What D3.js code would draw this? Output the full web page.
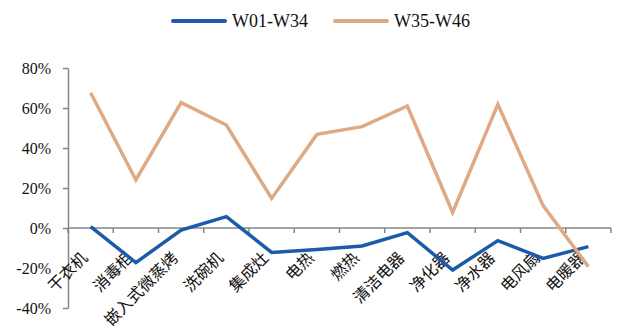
<!DOCTYPE html>
<html>
<head>
<meta charset="utf-8">
<script src="https://cdn.jsdelivr.net/npm/d3@7"></script>
<style>
  html, body { margin: 0; padding: 0; background: #fff; }
  svg { display: block; }
</style>
</head>
<body>
<svg id="chart" width="622" height="330"></svg>
<script>
// Categories along the x axis
const categories = ["干衣机", "消毒柜", "嵌入式微蒸烤", "洗碗机", "集成灶", "电热", "燃热", "清洁电器", "净化器", "净水器", "电风扇", "电暖器"];
// Year-on-year change (%) for two periods
const seriesW01W34 = [0.7, -17.3, -1.0, 5.7, -12.2, -10.7, -9.0, -2.3, -21.0, -6.3, -15.2, -9.3];
const seriesW35W46 = [67.6, 24.0, 62.7, 51.5, 14.8, 46.8, 50.7, 61.0, 7.8, 61.8, 11.2, -19.3];
const seriesNames = ["W01-W34", "W35-W46"];
const yTicks = [-40, -20, 0, 20, 40, 60, 80];

const colors = ["#1b5ba9", "#dfa983"];
const axisColor = "#868686";
const serif = "'Liberation Serif', 'DejaVu Serif', serif";
const cjk = "'Noto Sans CJK SC', 'Noto Sans', sans-serif";

const svg = d3.select("#chart");
const plotLeft = 68, plotRight = 611, plotTop = 68, plotBottom = 308;

const x = d3.scaleBand().domain(categories).range([plotLeft, plotRight]);
const y = d3.scaleLinear().domain([-40, 80]).range([plotBottom, plotTop]);

// Y axis
const yAxis = svg.append("g")
  .attr("transform", `translate(${plotLeft},0)`)
  .call(d3.axisLeft(y).tickValues(yTicks).tickSize(5).tickSizeOuter(0).tickFormat(d => d + "%"));
yAxis.attr("font-family", null).attr("font-size", null);
yAxis.select(".domain").attr("stroke", axisColor).attr("stroke-width", 1.5);
yAxis.selectAll(".tick line").attr("stroke", axisColor).attr("stroke-width", 1.5);
yAxis.selectAll(".tick text")
  .attr("x", -17)
  .attr("fill", "#111")
  .attr("font-family", serif)
  .attr("font-size", 16);

// X axis along the zero line, with ticks at band boundaries
const xAxisG = svg.append("g").attr("transform", `translate(0,${y(0)})`);
xAxisG.append("line")
  .attr("x1", plotLeft).attr("x2", plotRight)
  .attr("stroke", axisColor).attr("stroke-width", 1.5);
const boundaries = categories.map(c => x(c)).concat([plotRight]);
xAxisG.selectAll("line.tk").data(boundaries).enter().append("line")
  .attr("class", "tk")
  .attr("x1", d => d).attr("x2", d => d)
  .attr("y1", 0).attr("y2", 5)
  .attr("stroke", axisColor).attr("stroke-width", 1.5);

// Category labels, rotated
xAxisG.selectAll("text.cat").data(categories).enter().append("text")
  .attr("class", "cat")
  .attr("transform", d => `translate(${x(d) + x.bandwidth() / 2 - 6},${27}) rotate(-45)`)
  .attr("text-anchor", "end")
  .attr("dy", "0.35em")
  .attr("fill", "#111")
  .attr("font-family", cjk)
  .attr("font-size", 16)
  .text(d => d);

// Lines
const line = d3.line()
  .x((d, i) => x(categories[i]) + x.bandwidth() / 2)
  .y(d => y(d));

[seriesW01W34, seriesW35W46].forEach((s, k) => {
  svg.append("path")
    .datum(s)
    .attr("fill", "none")
    .attr("stroke", colors[k])
    .attr("stroke-width", 3.5)
    .attr("stroke-linejoin", "miter")
    .attr("d", line);
});

// Legend
const legendX = [173, 335];
seriesNames.forEach((name, k) => {
  const g = svg.append("g").attr("transform", `translate(${legendX[k]},21)`);
  g.append("line").attr("x1", 0).attr("x2", 52)
    .attr("stroke", colors[k]).attr("stroke-width", 4).attr("stroke-linecap", "round");
  g.append("text").attr("x", 59).attr("dy", "0.35em")
    .attr("fill", "#111")
    .attr("font-family", serif)
    .attr("font-size", 18)
    .text(name);
});
</script>
</body>
</html>
